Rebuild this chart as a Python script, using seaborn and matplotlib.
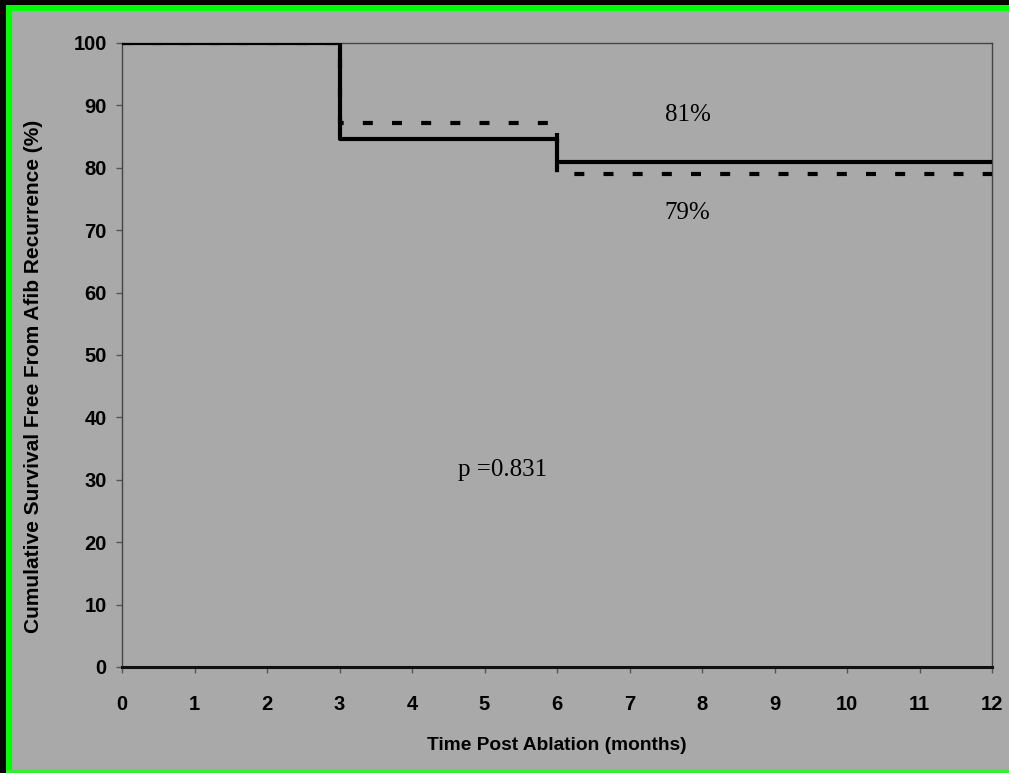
import matplotlib
matplotlib.use("Agg")
import matplotlib.pyplot as plt
from matplotlib.patches import Rectangle
import pandas as pd
import seaborn as sns

# Kaplan-Meier step points (months, % free from recurrence)
months = [0, 3, 6, 12]
group_solid = [100, 84.6, 81, 81]
group_dashed = [100, 87.2, 79, 79]
x_ticks = list(range(0, 13))
y_ticks = list(range(0, 101, 10))

BG = "#a9a9a9"
W, H = 1009, 773

sns.set_theme(style="ticks")
plt.rcParams["font.family"] = ["Liberation Sans", "DejaVu Sans"]

fig = plt.figure(figsize=(W / 100, H / 100), dpi=100, facecolor=BG)
ax = fig.add_axes([122 / W, 1 - 667 / H, (992 - 122) / W, (667 - 43) / H])
ax.set_facecolor(BG)

df_solid = pd.DataFrame({"month": months, "pct": group_solid})
df_dashed = pd.DataFrame({"month": months, "pct": group_dashed})

sns.lineplot(data=df_solid, x="month", y="pct", ax=ax, color="black",
             linewidth=3, drawstyle="steps-post", zorder=3)
sns.lineplot(data=df_dashed, x="month", y="pct", ax=ax, color="black",
             linewidth=3, drawstyle="steps-post", linestyle=(0, (2.4, 4.6)),
             zorder=3)

ax.set_xlim(0, 12)
ax.set_ylim(0, 100)
ax.set_xticks(x_ticks)
ax.set_yticks(y_ticks)
ax.set_xticklabels([str(v) for v in x_ticks], fontsize=14.5, fontweight="bold")
ax.set_yticklabels([str(v) for v in y_ticks], fontsize=14.5, fontweight="bold")
ax.tick_params(axis="x", direction="out", length=4, width=1, color="#555555",
               pad=16, labelcolor="black")
ax.tick_params(axis="y", direction="out", length=4, width=1, color="#555555",
               pad=7, labelcolor="black")

for side in ("top", "right", "left"):
    ax.spines[side].set_visible(True)
    ax.spines[side].set_color("#444444")
    ax.spines[side].set_linewidth(1.0)
ax.spines["bottom"].set_color("#111111")
ax.spines["bottom"].set_linewidth(2.2)

ax.set_xlabel("Time Post Ablation (months)", fontsize=13.8, fontweight="bold",
              color="black")
ax.set_ylabel("Cumulative Survival Free From Afib Recurrence (%)", fontsize=15,
              fontweight="bold", color="black")
ax.xaxis.set_label_coords(0.5, -0.112)
ax.yaxis.set_label_coords(-0.091, 0.465)

serif = ["Liberation Serif", "DejaVu Serif"]
ax.text(7.8, group_solid[-1] + 7.5, f"{group_solid[-1]:.0f}%", family=serif,
        fontsize=18, ha="center", va="center", color="black")
ax.text(7.8, group_dashed[-1] - 6.2, f"{group_dashed[-1]:.0f}%", family=serif,
        fontsize=18, ha="center", va="center", color="black")
ax.text(5.25, 31.6, "p =0.831", family=serif, fontsize=18, ha="center",
        va="center", color="black")

# Frame around the slide: black edges with a bright green border
def frame_rect(x0, y0, x1, y1, color):
    fig.patches.append(Rectangle((x0 / W, 1 - y1 / H), (x1 - x0) / W,
                                 (y1 - y0) / H, transform=fig.transFigure,
                                 facecolor=color, edgecolor="none", zorder=10))

frame_rect(0, 0, W, 5, "#050505")
frame_rect(0, 0, 6, H, "#050505")
frame_rect(6, 5, W, 11, "#00ff00")
frame_rect(6, 5, 12, H, "#00ff00")
frame_rect(6, 770, W, H, "#33ee33")

fig.savefig("out.png", dpi=100, facecolor=BG)
